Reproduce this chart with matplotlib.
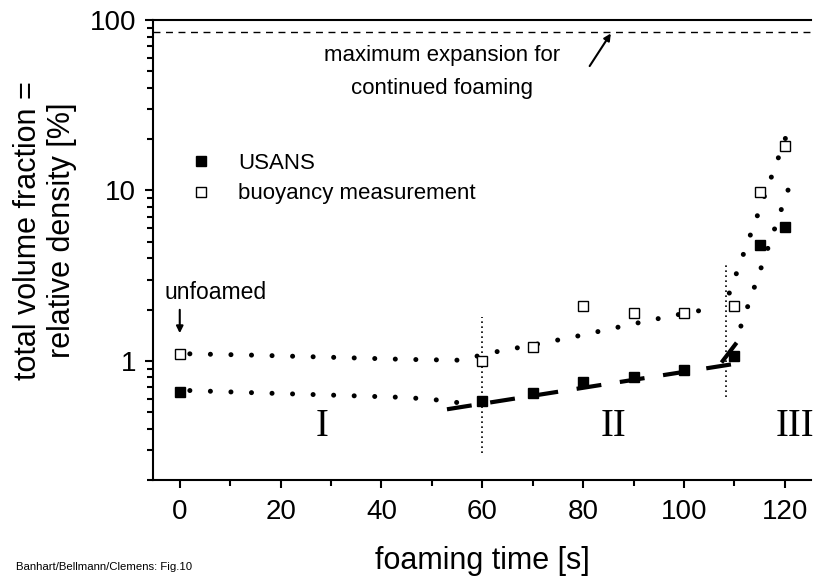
import matplotlib
matplotlib.use("Agg")
import matplotlib.pyplot as plt
from matplotlib.ticker import FixedLocator, FixedFormatter, LogLocator, NullFormatter, MultipleLocator

plt.rcParams["font.family"] = ["Liberation Sans", "DejaVu Sans"]

# measured points
t_usans = [0, 60, 70, 80, 90, 100, 110, 115, 120]
v_usans = [0.66, 0.58, 0.65, 0.75, 0.80, 0.89, 1.07, 4.8, 6.1]
t_buoy = [0, 60, 70, 80, 90, 100, 110, 115, 120]
v_buoy = [1.1, 1.0, 1.21, 2.1, 1.9, 1.9, 2.1, 9.8, 18.2]

# guide-to-the-eye curves
t_fit_upper = [2, 15, 30, 45, 55, 58, 62, 70, 78, 90, 98, 102, 106]
v_fit_upper = [1.1, 1.08, 1.05, 1.02, 1.01, 1.05, 1.12, 1.24, 1.38, 1.65, 1.85, 1.94, 2.06]
t_fit_lower = [2, 15, 30, 45, 51, 55]
v_fit_lower = [0.67, 0.65, 0.63, 0.61, 0.59, 0.57]
t_steep_b = [109, 120.2]
v_steep_b = [2.5, 20.5]
t_steep_u = [111.3, 121.2]
v_steep_u = [1.6, 11.2]
t_dash = [53, 110]
v_dash = [0.52, 0.96]
t_dash_steep = [107.7, 110.2]
v_dash_steep = [1.0, 1.25]

t_regions = [60, 108.3]
v_region_lo = [0.29, 0.61]
v_region_hi = [1.8, 3.8]

max_expansion = 85

fig = plt.figure(figsize=(8.21, 5.81), dpi=100)
ax = fig.add_axes([0.1864, 0.1738, 0.8014, 0.7918])

dot = (0, (0.01, 4.1))
for tt, vv in [(t_fit_upper, v_fit_upper), (t_fit_lower, v_fit_lower),
               (t_steep_b, v_steep_b), (t_steep_u, v_steep_u)]:
    ax.plot(tt, vv, color="black", lw=3.6, linestyle=dot, dash_capstyle="round")
ax.plot(t_dash, v_dash, color="black", lw=3, linestyle=(0, (6, 4.5)))
ax.plot(t_dash_steep, v_dash_steep, color="black", lw=3)

for t, lo, hi in zip(t_regions, v_region_lo, v_region_hi):
    ax.plot([t, t], [lo, hi], color="black", lw=1.2, linestyle=(0, (1, 2)))

ax.axhline(max_expansion, color="black", lw=1, linestyle=(0, (5, 4)))

ax.plot(t_usans, v_usans, "s", color="black", ms=7.5, label="USANS")
ax.plot(t_buoy, v_buoy, "s", mfc="white", mec="black", mew=1, ms=7.5,
        label="buoyancy measurement")

ax.set_yscale("log")
ax.set_xlim(-5.3, 125.2)
ax.set_ylim(0.2, 100)

ax.xaxis.set_major_locator(MultipleLocator(20))
ax.xaxis.set_minor_locator(MultipleLocator(10))
ax.yaxis.set_major_locator(FixedLocator([1, 10, 100]))
ax.yaxis.set_major_formatter(FixedFormatter(["1", "10", "100"]))
ax.yaxis.set_minor_locator(LogLocator(base=10, subs=range(2, 10)))
ax.yaxis.set_minor_formatter(NullFormatter())

ax.spines["right"].set_visible(False)
for s in ["left", "bottom", "top"]:
    ax.spines[s].set_linewidth(1.5)
ax.tick_params(which="both", direction="out", width=1.5, labelsize=20, top=False, right=False)
ax.tick_params(which="major", length=6)
ax.tick_params(which="minor", length=4)
ax.tick_params(axis="y", which="major", pad=6)
ax.tick_params(axis="x", which="major", pad=8)

ax.set_xlabel("foaming time [s]", fontsize=22, labelpad=15)
ax.set_ylabel("total volume fraction =\nrelative density [%]", fontsize=22, linespacing=1.18)
ax.yaxis.set_label_coords(-0.115, 0.543)

ax.legend(loc="upper left", bbox_to_anchor=(0.042, 0.73), frameon=False, fontsize=16,
          handletextpad=1.2, labelspacing=0.42, borderaxespad=0, handlelength=1.0)

ax.text(52, 49.5, "maximum expansion for\ncontinued foaming",
        fontsize=16, ha="center", va="center", linespacing=1.7)
ax.annotate("", xy=(85.8, 86), xytext=(81, 52),
            arrowprops=dict(arrowstyle="-|>", color="black", lw=1.5, mutation_scale=10))

ax.text(-3.0, 2.31, "unfoamed", fontsize=16.5, ha="left", va="baseline")
ax.annotate("", xy=(0, 1.4), xytext=(0, 2.07),
            arrowprops=dict(arrowstyle="-|>", color="black", lw=1.5, mutation_scale=10))

for t, lbl in zip([28.3, 86, 122], ["I", "II", "III"]):
    ax.text(t, 0.41, lbl, family="Liberation Serif", fontsize=28, ha="center", va="center")

fig.text(0.02, 0.015, "Banhart/Bellmann/Clemens: Fig.10", fontsize=8.2, ha="left", va="bottom")

fig.savefig("out.png", dpi=100)
